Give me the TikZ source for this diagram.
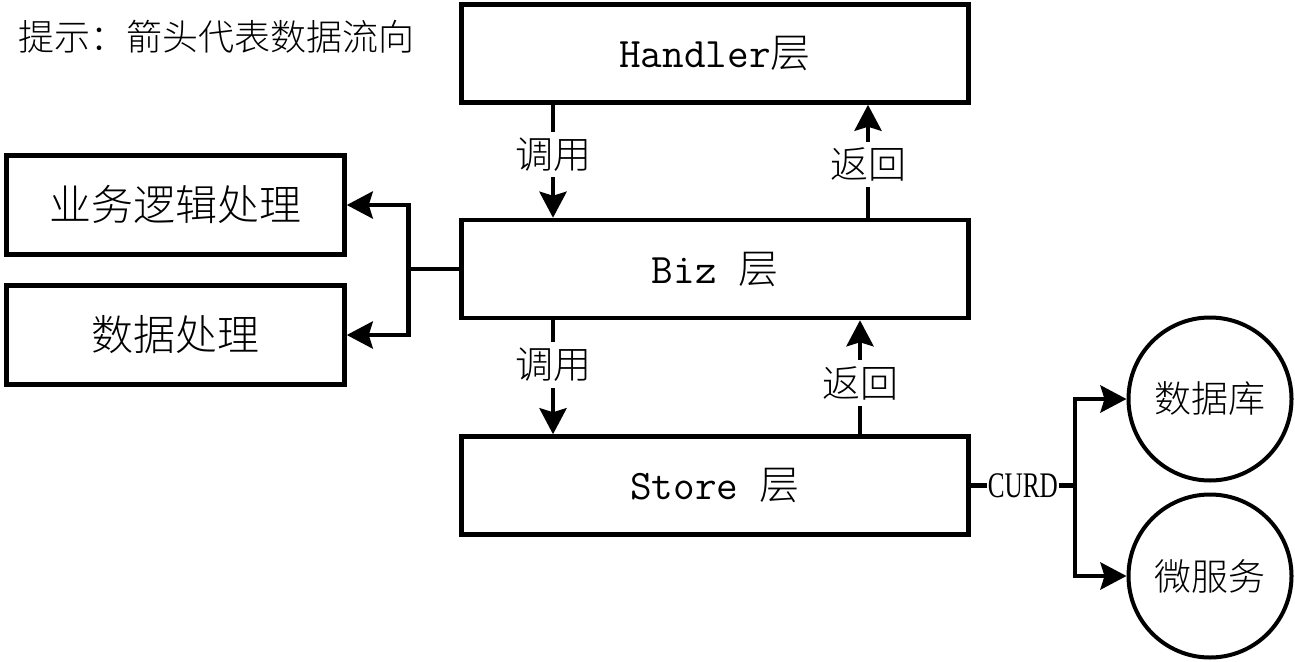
\documentclass[tikz,border=0pt]{standalone}
\usepackage{fontspec}
\setmainfont{Noto Sans CJK SC Light}
\newfontfamily\curdfont{Liberation Serif}
\usetikzlibrary{arrows.meta,positioning}

\tikzset{
  layer/.style={draw, line width=4.5pt, minimum width=507pt, minimum height=98pt, inner sep=0pt, font=\fontsize{40}{40}\selectfont},
  task/.style={draw, line width=4.5pt, minimum width=338pt, minimum height=99pt, inner sep=0pt, font=\fontsize{42}{42}\selectfont},
  target/.style={draw, circle, line width=4pt, minimum size=163pt, inner sep=0pt, font=\fontsize{37}{37}\selectfont},
  wire/.style={line width=4.5pt},
  flow/.style={line width=4.5pt, -{Stealth[length=26pt, width=27pt, inset=4pt]}},
  lbl/.style={fill=white, inner sep=6pt, font=\fontsize{38}{38}\selectfont},
  curd/.style={fill=white, inner sep=1pt, font=\curdfont\fontsize{36}{36}\selectfont}
}

\begin{document}
\begin{tikzpicture}[x=1pt, y=-1pt]
  \useasboundingbox (0,0) rectangle (1295,661);
  % hint
  \node[anchor=west, inner sep=0pt, font=\fontsize{36}{36}\selectfont] (hint) at (18,37) {提示：箭头代表数据流向};
  % layers
  \node[layer] (handler) at (715,53.5) {{\ttfamily\fontsize{42}{42}\selectfont Handler}层};
  \node[layer, below=113pt of handler] (biz) {{\ttfamily\fontsize{42}{42}\selectfont Biz }层};
  \node[layer, below=114pt of biz] (store) {{\ttfamily\fontsize{42}{42}\selectfont Store }层};
  % biz work
  \node[task] (logic) at (175.5,205) {业务逻辑处理};
  \node[task] (data) at (175.5,335) {数据处理};
  % backends
  \node[target] (db) at (1210,399) {数据库};
  \node[target] (ms) at (1210,576) {微服务};
  % calls and returns
  \draw[flow] ([xshift=-162pt]handler.south) -- node[lbl, pos=0.44] {调用} ([xshift=-162pt]biz.north);
  \draw[flow] ([xshift=153pt]biz.north) -- node[lbl, pos=0.47] {返回} ([xshift=153pt]handler.south);
  \draw[flow] ([xshift=-162pt]biz.south) -- node[lbl, pos=0.39] {调用} ([xshift=-162pt]store.north);
  \draw[flow] ([xshift=145pt]store.north) -- node[lbl, pos=0.45] {返回} ([xshift=145pt]biz.south);
  % biz split
  \coordinate (bizsplit) at ([xshift=-51pt]biz.west);
  \draw[wire] (biz.west) -- (bizsplit);
  \draw[flow] (bizsplit) |- (logic.east);
  \draw[flow] (bizsplit) |- (data.east);
  % store split
  \coordinate (storesplit) at ([xshift=104pt]store.east);
  \draw[wire] (store.east) -- node[curd] {\scalebox{0.7}[1]{CURD}} (storesplit);
  \draw[flow] (storesplit) |- (db.west);
  \draw[flow] (storesplit) |- (ms.west);
\end{tikzpicture}
\end{document}
